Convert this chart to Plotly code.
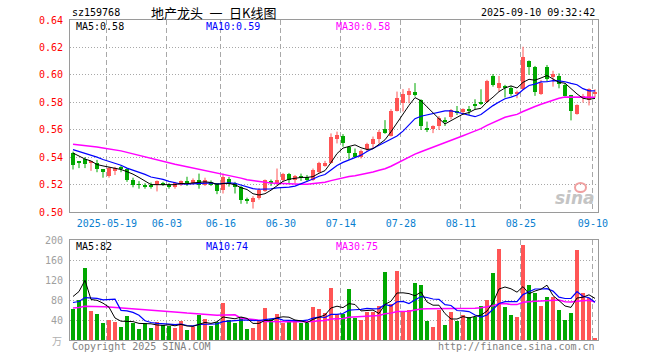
import plotly.graph_objects as go
import pandas as pd
import numpy as np

# ---------------- data ----------------
dates = [d.strftime("%Y-%m-%d") for d in pd.bdate_range("2025-05-09", "2025-09-10")
         if d.strftime("%Y-%m-%d") != "2025-06-02"]

opens = [0.543, 0.5365, 0.539, 0.5355, 0.536, 0.531, 0.526, 0.530, 0.533, 0.531,
         0.523, 0.5202, 0.5195, 0.520, 0.5195, 0.521, 0.520, 0.518, 0.520, 0.522,
         0.521, 0.523, 0.5195, 0.522, 0.521, 0.516, 0.524, 0.521, 0.518, 0.509,
         0.507, 0.510, 0.5155, 0.5222, 0.5205, 0.523, 0.5275, 0.5232, 0.5258, 0.5256,
         0.5232, 0.5293, 0.5342, 0.536, 0.553, 0.5554, 0.5476, 0.543, 0.540, 0.5456,
         0.5495, 0.553, 0.5605, 0.5554, 0.574, 0.5798, 0.5854, 0.5878, 0.5817, 0.561,
         0.5603, 0.5627, 0.5668, 0.569, 0.5729, 0.5727, 0.5746, 0.5782, 0.5805, 0.580,
         0.5994, 0.5902, 0.5916, 0.5907, 0.5861, 0.5895, 0.6103, 0.606, 0.5861, 0.6055,
         0.5982, 0.5992, 0.5927, 0.5854, 0.5716, 0.583, 0.5818, 0.586]
highs = [0.544, 0.537, 0.540, 0.537, 0.538, 0.531, 0.533, 0.533, 0.534, 0.532,
         0.525, 0.5225, 0.521, 0.5215, 0.523, 0.522, 0.521, 0.522, 0.523, 0.5257,
         0.5245, 0.528, 0.525, 0.523, 0.521, 0.528, 0.5255, 0.522, 0.519, 0.5105,
         0.5115, 0.5175, 0.5237, 0.5237, 0.5317, 0.5285, 0.5285, 0.527, 0.528, 0.527,
         0.5317, 0.5366, 0.5373, 0.5573, 0.5586, 0.5568, 0.548, 0.5463, 0.5456, 0.5505,
         0.555, 0.5598, 0.567, 0.575, 0.5878, 0.5896, 0.5903, 0.594, 0.5822, 0.5659,
         0.5632, 0.570, 0.569, 0.5751, 0.5773, 0.5756, 0.5773, 0.5822, 0.5895, 0.5964,
         0.6006, 0.5992, 0.5927, 0.5919, 0.5885, 0.6205, 0.6105, 0.6065, 0.5963, 0.6072,
         0.603, 0.6011, 0.5939, 0.5854, 0.5785, 0.5861, 0.5902, 0.5895]
lows = [0.531, 0.532, 0.532, 0.530, 0.529, 0.525, 0.525, 0.527, 0.529, 0.522,
        0.518, 0.517, 0.517, 0.517, 0.515, 0.519, 0.517, 0.517, 0.519, 0.519,
        0.520, 0.517, 0.519, 0.519, 0.513, 0.5135, 0.5185, 0.5135, 0.506, 0.506,
        0.5025, 0.509, 0.5146, 0.519, 0.5195, 0.522, 0.521, 0.521, 0.5227, 0.522,
        0.5227, 0.5285, 0.533, 0.5354, 0.550, 0.5476, 0.538, 0.5395, 0.539, 0.544,
        0.5464, 0.550, 0.557, 0.555, 0.5733, 0.5733, 0.5793, 0.5842, 0.5598, 0.5583,
        0.5575, 0.5598, 0.5627, 0.5676, 0.5707, 0.5707, 0.5707, 0.5749, 0.578, 0.5798,
        0.5914, 0.5878, 0.5835, 0.5847, 0.583, 0.589, 0.600, 0.5847, 0.5854, 0.5951,
        0.5914, 0.5902, 0.5842, 0.5668, 0.571, 0.5798, 0.5777, 0.5835]
closes = [0.534, 0.536, 0.535, 0.537, 0.531, 0.529, 0.532, 0.532, 0.531, 0.523,
          0.520, 0.520, 0.519, 0.518, 0.5227, 0.520, 0.518, 0.521, 0.5225, 0.5216,
          0.523, 0.520, 0.523, 0.520, 0.515, 0.5255, 0.5205, 0.5185, 0.509, 0.5085,
          0.510, 0.516, 0.5232, 0.5218, 0.5232, 0.5276, 0.5237, 0.526, 0.5256, 0.5232,
          0.5305, 0.5359, 0.5356, 0.555, 0.556, 0.5505, 0.5432, 0.540, 0.5447, 0.5495,
          0.553, 0.5586, 0.5575, 0.574, 0.583, 0.5861, 0.5883, 0.5856, 0.5627, 0.5606,
          0.5627, 0.5686, 0.5664, 0.5744, 0.5725, 0.5751, 0.5742, 0.5778, 0.5785, 0.5956,
          0.5926, 0.5943, 0.5912, 0.5861, 0.5878, 0.6132, 0.6055, 0.5878, 0.5943, 0.5968,
          0.6006, 0.5931, 0.5847, 0.574, 0.5781, 0.5847, 0.5895, 0.5878]
volumes = [63, 80, 144, 58, 52, 34, 40, 36, 26, 48,
           34, 22, 34, 24, 36, 30, 28, 24, 38, 20,
           26, 50, 42, 28, 36, 74, 40, 34, 46, 22,
           24, 40, 64, 42, 52, 34, 36, 36, 34, 34,
           66, 62, 54, 104, 52, 52, 102, 45, 40, 56,
           56, 68, 136, 72, 138, 58, 60, 114, 110, 38,
           26, 60, 30, 56, 38, 50, 46, 46, 68, 80,
           134, 182, 66, 50, 46, 190, 110, 94, 68, 86,
           86, 60, 40, 54, 180, 94, 84, 4]

# closes / volumes before the first visible day (feed the moving averages)
prior_closes = [0.548, 0.550, 0.552, 0.553, 0.551, 0.549, 0.552, 0.555, 0.556, 0.554,
                0.553, 0.552, 0.550, 0.551, 0.553, 0.554, 0.552, 0.549, 0.548, 0.547,
                0.549, 0.550, 0.548, 0.547, 0.546, 0.547, 0.546, 0.544, 0.544]
prior_volumes = [55, 60, 58, 62, 57, 54, 60, 65, 58, 56,
                 52, 60, 63, 58, 55, 62, 60, 57, 59, 60,
                 60, 65, 63, 62, 65, 30, 32, 250, 60]

tick_labels = ["2025-05-19", "06-03", "06-16", "06-30", "07-14", "07-28", "08-11", "08-25", "09-10"]
price_ticks = [0.50, 0.52, 0.54, 0.56, 0.58, 0.60, 0.62, 0.64]
vol_ticks = [40, 80, 120, 160, 200]

# ---------------- derived ----------------
n = len(closes)
idx = list(range(n))
short_dates = [d[5:] for d in dates]
tick_idx = [short_dates.index(t[-5:]) for t in tick_labels]


def ma(series, prior, w):
    s = pd.Series(list(prior) + list(series), dtype=float)
    return s.rolling(w).mean().iloc[len(prior):].tolist()


ma5, ma10, ma30 = (ma(closes, prior_closes, w) for w in (5, 10, 30))
vma5, vma10, vma30 = (ma(volumes, prior_volumes, w) for w in (5, 10, 30))

UP = "#ff5555"
DN = "#00a800"
up = [c >= o for o, c in zip(opens, closes)]
cols = [UP if u else DN for u in up]
base = []
height = []
for o, c in zip(opens, closes):
    lo, hi = min(o, c), max(o, c)
    if hi - lo < 0.0006:
        mid = (hi + lo) / 2
        lo, hi = mid - 0.0003, mid + 0.0003
    base.append(lo)
    height.append(hi - lo)

fig = go.Figure()

for flag, colr in ((True, UP), (False, DN)):
    wx, wy = [], []
    for i in idx:
        if up[i] == flag:
            wx += [i, i, None]
            wy += [lows[i], highs[i], None]
    fig.add_trace(go.Scatter(x=wx, y=wy, mode="lines", line=dict(color=colr, width=1),
                             hoverinfo="skip", showlegend=False, xaxis="x", yaxis="y"))

fig.add_trace(go.Bar(x=idx, y=height, base=base, width=0.8, marker=dict(color=cols, line=dict(width=0)),
                     showlegend=False, xaxis="x", yaxis="y",
                     customdata=np.stack([opens, highs, lows, closes], axis=1),
                     hovertemplate="O %{customdata[0]}<br>H %{customdata[1]}<br>L %{customdata[2]}<br>C %{customdata[3]}<extra></extra>"))

for vals, colr, wd in ((ma30, "#ff00ff", 1.5), (ma10, "#0000ff", 1.2), (ma5, "#000000", 1)):
    fig.add_trace(go.Scatter(x=idx, y=vals, mode="lines", line=dict(color=colr, width=wd),
                             hoverinfo="skip", showlegend=False, xaxis="x", yaxis="y"))

fig.add_trace(go.Bar(x=idx, y=volumes, width=0.8, marker=dict(color=cols, line=dict(width=0)),
                     showlegend=False, xaxis="x2", yaxis="y2"))
for vals, colr, wd in ((vma30, "#ff00ff", 1.5), (vma10, "#0000ff", 1.2), (vma5, "#000000", 1)):
    fig.add_trace(go.Scatter(x=idx, y=vals, mode="lines", line=dict(color=colr, width=wd),
                             hoverinfo="skip", showlegend=False, xaxis="x2", yaxis="y2"))

MONO = "DejaVu Sans Mono"
grid_x = [t - 0.35 for t in tick_idx]
xcommon = dict(range=[-0.5, n - 0.5], showline=True, mirror=True, linecolor="#9a9a9a", linewidth=1,
               tickmode="array", tickvals=grid_x, showgrid=True, gridcolor="#a8a8a8",
               griddash="5px,3px", gridwidth=1, zeroline=False, ticks="", fixedrange=True)
fig.update_layout(
    width=660, height=360, margin=dict(l=70, r=62, t=20, b=20, autoexpand=False),
    paper_bgcolor="white", plot_bgcolor="white", barmode="overlay", bargap=0,
    font=dict(family=MONO, size=10, color="#000"),
    xaxis=dict(**xcommon, anchor="y", ticktext=tick_labels, tickfont=dict(color="#0a7fd0", size=10, family=MONO),
               ticklabelstandoff=2),
    xaxis2=dict(**xcommon, anchor="y2", matches="x", showticklabels=False),
    yaxis=dict(domain=[0.4, 1.0], range=[0.50, 0.64], tickvals=price_ticks, tickformat=".2f",
               tickfont=dict(color="#ff0000", size=10, family=MONO), showline=True, mirror=True,
               linecolor="#9a9a9a", showgrid=True, gridcolor="#a8a8a8", griddash="1px,2px",
               zeroline=False, ticks="", ticklabelstandoff=4, fixedrange=True),
    yaxis2=dict(domain=[0.0, 0.3125], range=[0, 200], tickvals=vol_ticks, ticktext=[str(v) for v in vol_ticks],
                tickfont=dict(color="#a0a0a0", size=10, family=MONO), showline=True, mirror=True,
                linecolor="#9a9a9a", showgrid=True, gridcolor="#a8a8a8", griddash="1px,2px",
                zeroline=False, ticks="", ticklabelstandoff=4, fixedrange=True),
)


def px(X):
    return (X - 70) / 528


def py(Y):
    return (340 - Y) / 320


ann = [
    dict(text="sz159768", x=px(70), y=py(13), xanchor="left", font=dict(size=10, color="#000")),
    dict(text="地产龙头\u2002一\u2002日K线图", x=px(213.5), y=py(12), xanchor="center",
         font=dict(size=13, color="#000", family="Noto Sans CJK SC")),
    dict(text="2025-09-10 09:32:42", x=px(597), y=py(13), xanchor="right", font=dict(size=10, color="#000")),
    dict(text="MA5:0.58", x=px(74), y=py(26.5), xanchor="left", font=dict(size=10, color="#000")),
    dict(text="MA10:0.59", x=px(204), y=py(26.5), xanchor="left", font=dict(size=10, color="#0000ff")),
    dict(text="MA30:0.58", x=px(334), y=py(26.5), xanchor="left", font=dict(size=10, color="#ff00ff")),
    dict(text="MA5:82", x=px(74), y=py(246), xanchor="left", font=dict(size=10, color="#000")),
    dict(text="MA10:74", x=px(204), y=py(246), xanchor="left", font=dict(size=10, color="#0000ff")),
    dict(text="MA30:75", x=px(334), y=py(246), xanchor="left", font=dict(size=10, color="#ff00ff")),
    dict(text="万", x=px(64), y=py(340), xanchor="right", font=dict(size=10, color="#b0b0b0", family="Noto Sans CJK SC")),
    dict(text="Copyright 2025 SINA.COM", x=px(70), y=py(346), xanchor="left", font=dict(size=10, color="#808080")),
    dict(text="http://finance.sina.com.cn", x=px(597), y=py(346), xanchor="right", font=dict(size=10, color="#808080")),
    dict(text="<b><i>sina</i></b>", x=px(597), y=py(198), xanchor="right",
         font=dict(size=17, color="#c4c4c4", family="DejaVu Sans")),
]
for a in ann:
    a.update(xref="paper", yref="paper", yanchor="middle", showarrow=False)
fig.update_layout(annotations=ann)

# small eye of the sina logo
fig.add_shape(type="circle", xref="paper", yref="paper", x0=px(575), x1=px(586), y0=py(192), y1=py(183),
              line=dict(color="#f0a0a0", width=2), fillcolor="rgba(0,0,0,0)")

fig.write_html("out.html", config={"displayModeBar": False},
               post_script="document.body.style.margin='0px';document.body.style.padding='0px';")
